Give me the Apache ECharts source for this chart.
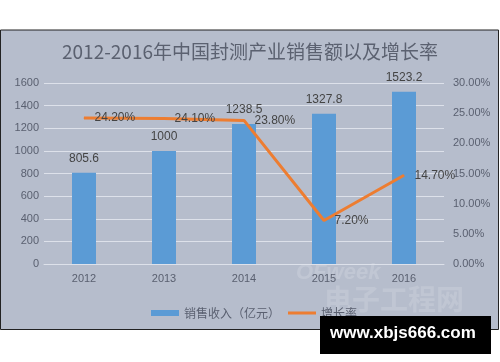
<!DOCTYPE html>
<html>
<head>
<meta charset="utf-8">
<script src="https://cdn.jsdelivr.net/npm/echarts@6/dist/echarts.min.js"></script>
<style>
html,body{margin:0;padding:0;background:#fff;}
#c{width:500px;height:362px;}
</style>
</head>
<body>
<div id="c"></div>
<script>
var categories = ['2012', '2013', '2014', '2015', '2016'];
var salesValues = [805.6, 1000, 1238.5, 1327.8, 1523.2];
var growthValues = [24.2, 24.1, 23.8, 7.2, 14.7];
var leftTicks = [0, 200, 400, 600, 800, 1000, 1200, 1400, 1600];
var rightTicks = [0, 5, 10, 15, 20, 25, 30];

var txt = '#5a6070';
var chart = echarts.init(document.getElementById('c'), null, {renderer: 'canvas'});
chart.setOption({
  backgroundColor: '#ffffff',
  animation: false,
  graphic: [
    {type: 'rect', z: -10, shape: {x: 0.5, y: 30, width: 498, height: 299.5},
     style: {fill: '#b6bdcc', stroke: '#222', lineWidth: 1}},
    {type: 'text', z: -5, left: 296, top: 262,
     style: {text: 'OFweek', fill: 'rgba(255,255,255,0.16)', font: 'italic bold 22px "Liberation Sans"'}},
    {type: 'text', z: -5, left: 324, top: 285,
     style: {text: '电子工程网', fill: 'rgba(255,255,255,0.14)', font: 'bold 28px "Noto Sans CJK SC"'}},
    {type: 'rect', z: 100, shape: {x: 320, y: 316, width: 171, height: 38}, style: {fill: '#000'}},
    {type: 'text', z: 101, left: 330, top: 325,
     style: {text: 'www.xbjs666.com', fill: '#fff', font: 'bold 17px "Liberation Sans"'}}
  ],
  title: {
    text: '2012-2016年中国封测产业销售额以及增长率',
    left: 'center', top: 37,
    textStyle: {fontFamily: '"Noto Sans CJK SC"', fontWeight: 'normal', fontSize: 19, color: '#5b6170'}
  },
  legend: {
    top: 302, left: 146, itemGap: 8, itemWidth: 28, itemHeight: 6,
    textStyle: {fontFamily: '"Noto Sans CJK SC"', fontSize: 12, color: txt},
    data: [
      {name: '销售收入（亿元）', icon: 'rect'},
      {name: '增长率', icon: 'path://M0,0L28,0L28,3L0,3Z'}
    ]
  },
  grid: {left: 44, right: 56, top: 83, bottom: 98},
  xAxis: {
    type: 'category', data: categories,
    axisLine: {lineStyle: {color: '#dde1ea'}},
    axisTick: {show: false},
    axisLabel: {color: txt, fontSize: 11, fontFamily: '"Liberation Sans"', margin: 9}
  },
  yAxis: [
    {type: 'value', min: 0, max: 1600, interval: 200,
     axisLabel: {color: txt, fontSize: 11, fontFamily: '"Liberation Sans"', margin: 5,
       formatter: function (v) { return String(v); }},
     axisLine: {show: false}, axisTick: {show: false},
     splitLine: {lineStyle: {color: '#dde1ea', width: 1}}},
    {type: 'value', min: 0, max: 30, interval: 5,
     axisLabel: {color: txt, fontSize: 11, fontFamily: '"Liberation Sans"', margin: 9,
       formatter: function (v) { return v.toFixed(2) + '%'; }},
     axisLine: {show: false}, axisTick: {show: false}, splitLine: {show: false}}
  ],
  series: [
    {name: '销售收入（亿元）', type: 'bar', data: salesValues, barWidth: 24,
     itemStyle: {color: '#5b9bd5'},
     label: {show: true, position: 'top', distance: 8, color: '#444', fontSize: 12, fontFamily: '"Liberation Sans"'}},
    {name: '增长率', type: 'line', yAxisIndex: 1, data: growthValues,
     symbol: 'circle', symbolSize: 1, showSymbol: true,
     lineStyle: {color: '#ed7d31', width: 3}, itemStyle: {color: '#ed7d31'},
     label: {show: true, position: 'right', distance: 10, color: '#444', fontSize: 12, fontFamily: '"Liberation Sans"',
       formatter: function (p) { return p.value.toFixed(2) + '%'; }}}
  ]
});
</script>
</body>
</html>
